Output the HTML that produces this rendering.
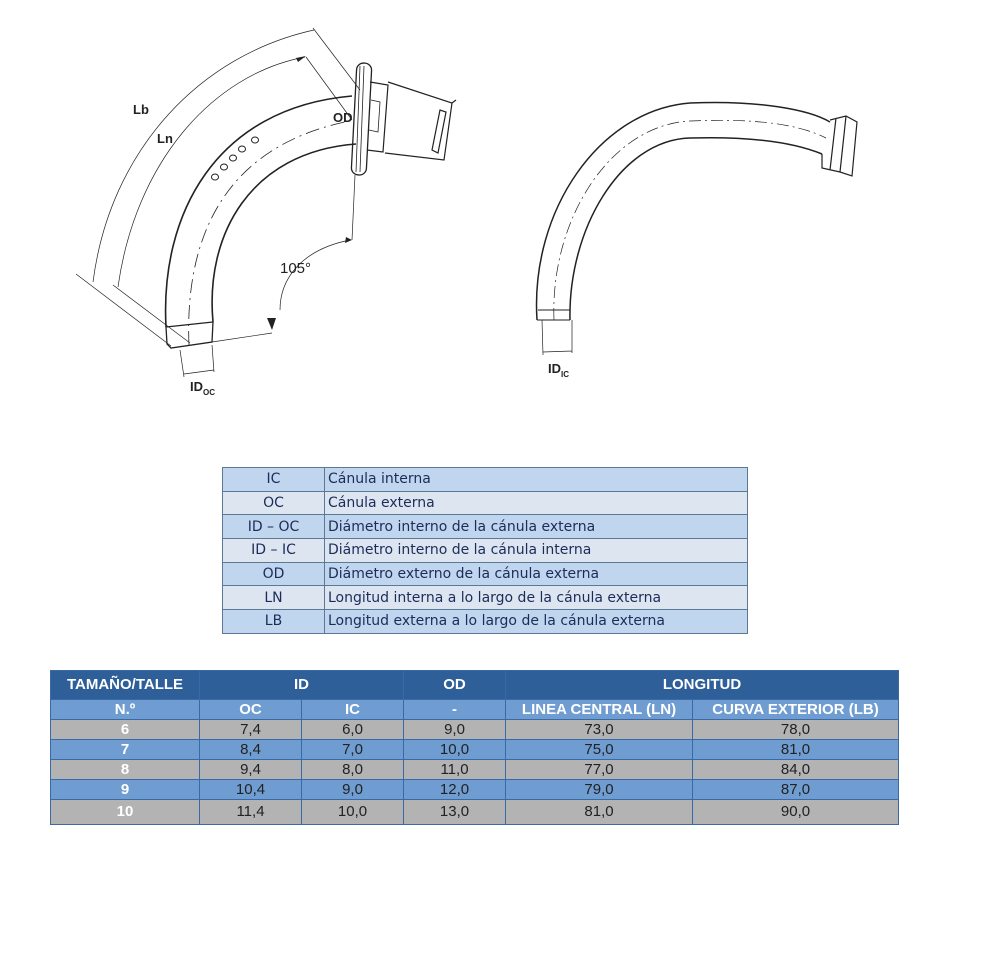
<!DOCTYPE html>
<html><head><meta charset="utf-8"><style>
body{margin:0;width:991px;height:972px;background:#fff;position:relative;font-family:"Liberation Sans",sans-serif;overflow:hidden}
svg{position:absolute;left:0;top:0}
table{border-collapse:collapse;position:absolute}
#leg{left:222px;top:467px;width:526px;font-family:"DejaVu Sans","Liberation Sans",sans-serif;font-size:14px;color:#1c2c5a}
#leg td{height:22.7px;padding:0 3px;border:1.5px solid #5c7894;line-height:20px}
#leg td:first-child{width:95px;text-align:center}
#leg tr:nth-child(odd) td{background:#bfd6ee}
#leg tr:nth-child(even) td{background:#dde6f0}
#dt{left:50px;top:670px;width:848px;font-size:15px;table-layout:fixed}
#dt td{padding:0;text-align:center;border:1px solid #3a6aa5;line-height:18px}
.h1 td{background:#2e5f99;color:#fff;font-weight:bold;height:28px}
.h2 td{background:#6f9dd2;color:#fff;font-weight:bold;height:19px}
.g td{background:#b3b3b3;color:#222;height:19px}
.b td{background:#6f9dd2;color:#222;height:19px}
#dt tr td:first-child{color:#fff;font-weight:bold}
.g:last-child td{height:24px}
</style></head><body>
<svg width="991" height="440" viewBox="0 0 991 440" fill="none" stroke="#222">
<!-- left cannula -->
<path d="M166,327 C160,215 215,108 352,96" stroke-width="1.6"/>
<path d="M213,322 C205,235 250,152 356,144" stroke-width="1.6"/>
<path d="M166,327 L213,322 M166,327 L167,344 L171,348 L212,342 L213,322" stroke-width="1.3"/>
<path d="M189,345 C185,250 215,150 345,122" stroke-width="0.8" stroke-dasharray="14,5,2,5"/>
<g stroke-width="1"><ellipse cx="215" cy="177" rx="3.5" ry="3"/><ellipse cx="224" cy="167" rx="3.5" ry="3"/><ellipse cx="233" cy="158" rx="3.5" ry="3"/><ellipse cx="242" cy="149" rx="3.5" ry="3"/><ellipse cx="255" cy="140" rx="3.5" ry="3"/></g>
<rect x="354" y="63" width="15" height="112" rx="7" transform="rotate(3 361 119)" stroke-width="1.3"/>
<path d="M360,66 L356,172 M364,66 L360,172" stroke-width="0.8"/>
<path d="M370,82 L388,85 L383,152 L367,150 M388,82 L452,103 L444,160 L385,153 M452,103 L456,100 M440,110 L432,150 L438,153 L446,112Z" stroke-width="1.2"/>
<path d="M371,100 L380,102 L378,132 L369,130" stroke-width="0.8"/>
<!-- dimension lines -->
<g stroke-width="0.7">
<path d="M93,282 C110,150 200,55 314,30"/>
<path d="M118,287 C135,165 210,75 305,57"/>
<path d="M76,274 L171,346 M113,285 L190,343 M313,28 L360,90 M306,57 L352,120"/>
<path d="M355,175 L352,240 M212,342 L272,333 M180,350 L184,377 M212,345 L214,372 M184,374 L214,370"/>
<path d="M280,310 C280,280 300,250 350,240"/>
<path d="M542,320 L543,355 M572,320 L572,353 M543,352 L572,351"/>
</g>
<path d="M296,58 L306,56 L298,62Z M346,237 L352,240 L345,243Z M267,318 L272,330 L276,318Z" fill="#222" stroke="none"/>
<!-- right cannula -->
<path d="M537,320 C530,210 600,110 690,103 C760,100 810,110 830,122" stroke-width="1.5"/>
<path d="M570,320 C568,230 620,140 690,138 C760,136 800,145 822,154" stroke-width="1.5"/>
<path d="M554,320 C550,220 610,125 690,121 C760,118 800,125 826,138" stroke-width="0.7" stroke-dasharray="12,4,2,4"/>
<path d="M537,320 L570,320 M538,310 L570,310" stroke-width="1"/>
<path d="M830,120 L846,116 L857,122 L852,176 L840,172 L822,168 L822,154 M836,118 L830,170 M846,116 L840,172" stroke-width="1.2"/>
<g fill="#222" stroke="none" font-family="Liberation Sans, sans-serif" font-size="13" font-weight="bold">
<text x="133" y="114">Lb</text><text x="157" y="143">Ln</text><text x="333" y="122">OD</text>
<text x="280" y="273" font-weight="normal" font-size="15">105°</text>
<text x="190" y="391">ID<tspan font-size="8" dy="4">OC</tspan></text>
<text x="548" y="373">ID<tspan font-size="8" dy="4">IC</tspan></text>
</g>
</svg>
<table id="leg">
<tr><td>IC</td><td>Cánula interna</td></tr>
<tr><td>OC</td><td>Cánula externa</td></tr>
<tr><td>ID – OC</td><td>Diámetro interno de la cánula externa</td></tr>
<tr><td>ID – IC</td><td>Diámetro interno de la cánula interna</td></tr>
<tr><td>OD</td><td>Diámetro externo de la cánula externa</td></tr>
<tr><td>LN</td><td>Longitud interna a lo largo de la cánula externa</td></tr>
<tr><td>LB</td><td>Longitud externa a lo largo de la cánula externa</td></tr>
</table>
<table id="dt">
<colgroup><col style="width:149px"><col style="width:102px"><col style="width:102px"><col style="width:102px"><col style="width:187px"><col style="width:206px"></colgroup>
<tr class="h1"><td>TAMAÑO/TALLE</td><td colspan="2">ID</td><td>OD</td><td colspan="2">LONGITUD</td></tr>
<tr class="h2"><td>N.º</td><td>OC</td><td>IC</td><td>-</td><td>LINEA CENTRAL (LN)</td><td>CURVA EXTERIOR (LB)</td></tr>
<tr class="g"><td>6</td><td>7,4</td><td>6,0</td><td>9,0</td><td>73,0</td><td>78,0</td></tr>
<tr class="b"><td>7</td><td>8,4</td><td>7,0</td><td>10,0</td><td>75,0</td><td>81,0</td></tr>
<tr class="g"><td>8</td><td>9,4</td><td>8,0</td><td>11,0</td><td>77,0</td><td>84,0</td></tr>
<tr class="b"><td>9</td><td>10,4</td><td>9,0</td><td>12,0</td><td>79,0</td><td>87,0</td></tr>
<tr class="g"><td>10</td><td>11,4</td><td>10,0</td><td>13,0</td><td>81,0</td><td>90,0</td></tr>
</table>
</body></html>
